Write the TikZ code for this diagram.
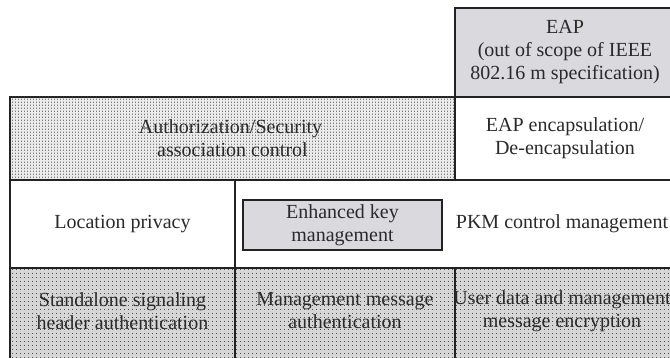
\documentclass[tikz,border=0pt]{standalone}
\usepackage{fontspec}
\setmainfont{Liberation Serif}
\usetikzlibrary{patterns}
\pgfdeclarepatternformonly{authdots}{\pgfpointorigin}{\pgfpoint{3pt}{3pt}}{\pgfpoint{3pt}{3pt}}{%
  \pgfpathrectangle{\pgfpointorigin}{\pgfpoint{0.9pt}{1.8pt}}\pgfusepath{fill}}
\pgfdeclarepatternformonly{lightdots}{\pgfpointorigin}{\pgfpoint{4pt}{4pt}}{\pgfpoint{4pt}{4pt}}{%
  \pgfpathrectangle{\pgfpointorigin}{\pgfpoint{1pt}{1pt}}\pgfusepath{fill}}
\definecolor{boxgray}{HTML}{D9D9DE}
\definecolor{txt}{HTML}{2A2A2A}
\definecolor{bordr}{HTML}{222222}
\begin{document}
\begin{tikzpicture}[x=1pt,y=-1pt,
  cell/.style={draw=bordr,line width=2pt,rectangle,inner sep=0pt,align=center,
    text=txt,font=\fontsize{20}{23}\selectfont},
  graycell/.style={cell,fill=boxgray},
  authcell/.style={cell,fill=black!8,postaction={pattern=authdots,pattern color=black!75}},
  dotcell/.style={cell,fill=black!16,postaction={pattern=lightdots,pattern color=black!70}},
  plain/.style={inner sep=0pt,align=center,text=txt,font=\fontsize{20}{23}\selectfont}]
\useasboundingbox (0,0) rectangle (670,358);
\fill[white] (0,0) rectangle (670,358);
% row 1
\node[graycell,minimum width=220,minimum height=89] (eap) at (565,52.5)
  {EAP\\(out of scope of IEEE\\802.16 m specification)};
% row 2
\node[authcell,minimum width=445,minimum height=83] (auth) at (232.5,138.5) {};
\node[plain] (authtxt) at (auth.center)
  {\hspace*{-4pt}Authorization/Security\\association control};
\node[cell,fill=white,minimum width=220,minimum height=83] (encap) at (565,138.5)
  {EAP encapsulation/\\De-encapsulation};
% row 3
\node[cell,fill=white,minimum width=225,minimum height=88] (loc) at (122.5,224) {Location privacy};
\node[cell,fill=white,minimum width=445,minimum height=88] (pkm) at (457.5,224) {};
\node[plain] (pkmtxt) at (562,224) {PKM control management};
\node[graycell,minimum width=199,minimum height=50] (ekm) at (342.5,225)
  {Enhanced key\\management};
% row 4
\node[dotcell,minimum width=225,minimum height=96] (ssh) at (122.5,316) {};
\node[dotcell,minimum width=220,minimum height=96] (mma) at (345,316) {};
\node[dotcell,minimum width=220,minimum height=96] (ude) at (565,316) {};
\node[plain] (sshtxt) at (122.5,311) {Standalone signaling\\header authentication};
\node[plain] (mmatxt) at (345,311) {Management message\\authentication};
\node[plain] (udetxt) at (562,311) {User data and management\\message encryption};
\end{tikzpicture}
\end{document}
